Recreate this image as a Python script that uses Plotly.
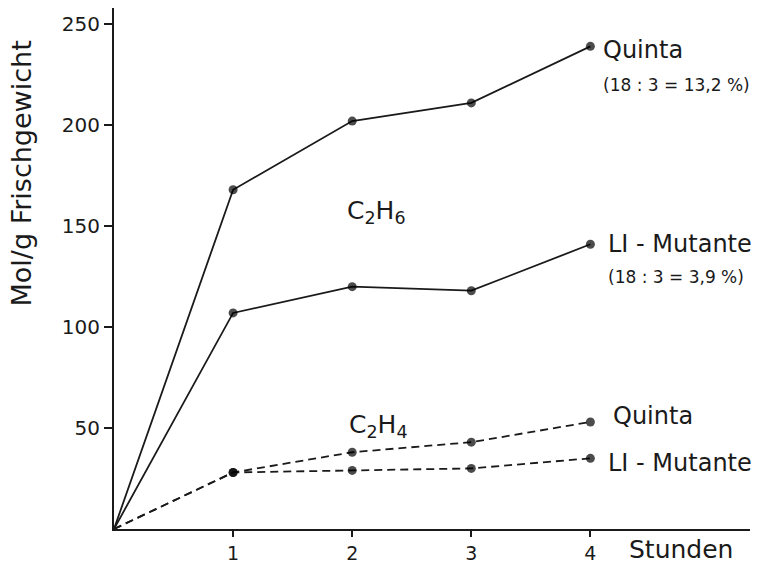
import plotly.graph_objects as go

# Hours after start (0 = origin of every curve)
stunden = [0, 1, 2, 3, 4]

# Ethane (C2H6) release, mol/g fresh weight
c2h6_quinta = [0, 168, 202, 211, 239]
c2h6_mutante = [0, 107, 120, 118, 141]

# Ethylene (C2H4) release, mol/g fresh weight
c2h4_quinta = [0, 28, 38, 43, 53]
c2h4_mutante = [0, 28, 29, 30, 35]

y_ticks = [50, 100, 150, 200, 250]
x_ticks = [1, 2, 3, 4]

INK = "#1a1a1a"
FONT = "DejaVu Sans"
X_MAX = 5.34
Y_MAX = 258.0

fig = go.Figure()

# marker only at measured points, not at the origin
msizes = [0, 9, 9, 9, 9]

def add_series(y, dash):
    fig.add_trace(go.Scatter(
        x=stunden, y=y, mode="lines+markers",
        line=dict(color=INK, width=1.8, dash=dash),
        marker=dict(color="#000000", size=msizes, line=dict(width=0)),
        showlegend=False, hoverinfo="skip", cliponaxis=False,
    ))

add_series(c2h6_quinta, "solid")
add_series(c2h6_mutante, "solid")
add_series(c2h4_quinta, "8px,5px")
add_series(c2h4_mutante, "8px,5px")

def label(x, y, text, size, anchor="left"):
    fig.add_annotation(x=x, y=y, xref="x", yref="y", text=text,
                       showarrow=False, xanchor=anchor, yanchor="middle",
                       font=dict(family=FONT, size=size, color=INK))

label(4.09, 237, "Quinta", 24)
label(4.09, 220, "(18 : 3 = 13,2 %)", 17)
label(4.13, 141, "LI - Mutante", 24)
label(4.13, 125, "(18 : 3 = 3,9 %)", 17)
label(4.17, 56, "Quinta", 24)
label(4.13, 32.5, "LI - Mutante", 24)
label(2.2, 157, "C<sub>2</sub>H<sub>6</sub>", 25, "center")
label(2.22, 51, "C<sub>2</sub>H<sub>4</sub>", 25, "center")

# x axis unit, placed below the axis line
fig.add_annotation(x=4.31 / X_MAX, y=-10 / Y_MAX, xref="paper", yref="paper",
                   text="Stunden", showarrow=False, xanchor="left", yanchor="middle",
                   font=dict(family=FONT, size=25, color=INK))

fig.add_annotation(x=-0.145, y=0.682, xref="paper", yref="paper",
                   text="Mol/g Frischgewicht", textangle=-90,
                   showarrow=False, xanchor="center", yanchor="middle",
                   font=dict(family=FONT, size=27, color=INK))

fig.update_xaxes(range=[0, X_MAX], showline=True, linewidth=2.2, linecolor=INK,
                 tickmode="array", tickvals=x_ticks, ticktext=[str(v) for v in x_ticks],
                 ticks="outside", ticklen=6, tickwidth=1.5, tickcolor=INK,
                 showgrid=False, zeroline=False, automargin=False,
                 tickfont=dict(family=FONT, size=19, color=INK))
fig.update_yaxes(range=[0, Y_MAX], showline=True, linewidth=2.2, linecolor=INK,
                 tickmode="array", tickvals=y_ticks, ticktext=[str(v) for v in y_ticks],
                 ticks="outside", ticklen=8, tickwidth=1.5, tickcolor=INK,
                 showgrid=False, zeroline=False, automargin=False,
                 tickfont=dict(family=FONT, size=20, color=INK))

fig.update_layout(width=757, height=563,
                  margin=dict(l=114, r=7, t=8, b=34),
                  paper_bgcolor="white", plot_bgcolor="white")

fig.write_html("out.html")
